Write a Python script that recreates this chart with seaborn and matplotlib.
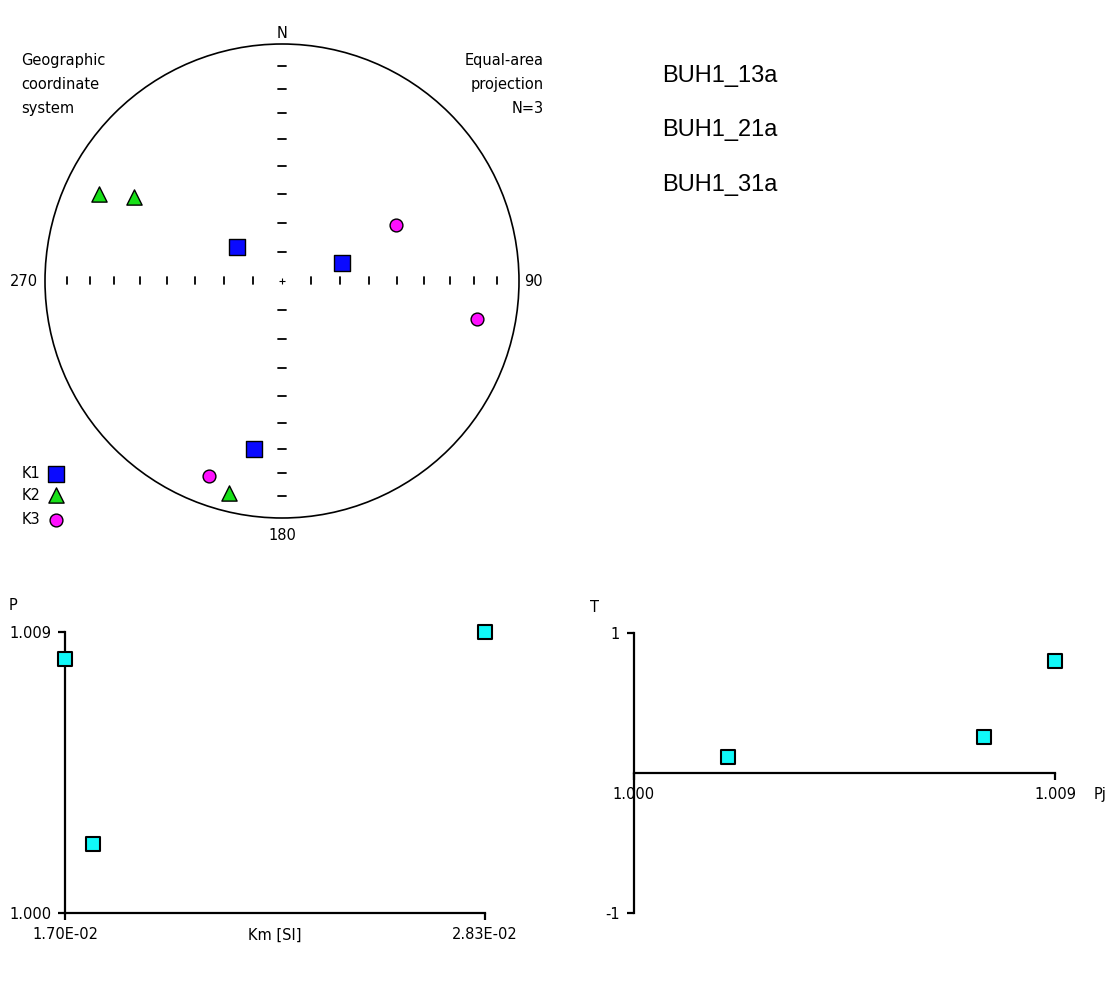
import numpy as np
import pandas as pd
import matplotlib
matplotlib.use("Agg")
import matplotlib.pyplot as plt
from matplotlib.patches import Circle
import seaborn as sns

# principal susceptibility directions (degrees), lower hemisphere
k_axes = ["K1", "K1", "K1", "K2", "K2", "K2", "K3", "K3", "K3"]
declination = [307.0, 73.0, 189.5, 295.5, 299.5, 194.0, 64.0, 101.0, 200.5]
inclination = [70.5, 68.5, 29.0, 15.5, 29.0, 8.5, 45.5, 17.5, 13.0]

samples = ["BUH1_13a", "BUH1_21a", "BUH1_31a"]

# P - Km plot
km_si = [0.01700, 0.01775, 0.02830]
p_degree = [1.00814, 1.00220, 1.00900]
km_ticks = [0.0170, 0.0283]
km_labels = ["1.70E-02", "2.83E-02"]
p_ticks = [1.000, 1.009]
p_labels = ["1.000", "1.009"]

# T - Pj plot
pj_degree = [1.00201, 1.00749, 1.00900]
t_shape = [0.114, 0.257, 0.798]
pj_ticks = [1.000, 1.009]
pj_labels = ["1.000", "1.009"]
t_ticks = [-1, 1]
t_labels = ["-1", "1"]

sns.set_style("white")
plt.rcParams["font.family"] = ["DejaVu Sans"]
plt.rcParams["axes.edgecolor"] = "black"
plt.rcParams["axes.labelcolor"] = "black"
plt.rcParams["xtick.color"] = "black"
plt.rcParams["ytick.color"] = "black"
plt.rcParams["text.color"] = "black"


def equal_area(dec, inc):
    r = np.sqrt(2) * np.sin(np.radians(90 - np.asarray(inc)) / 2)
    d = np.radians(np.asarray(dec))
    return r * np.sin(d), r * np.cos(d)


W, H = 1120, 996
fig = plt.figure(figsize=(W / 100, H / 100), dpi=100)

# ---- stereonet ----
cx, cy, R = 282, 281, 237
half = 1.18 * R
net = fig.add_axes([(cx - half) / W, 1 - (cy + half) / H, 2 * half / W, 2 * half / H])
net.set_xlim(-1.18, 1.18)
net.set_ylim(-1.18, 1.18)
net.set_axis_off()
net.add_patch(Circle((0, 0), 1, fill=False, lw=1.2, color="black"))

tick_r = np.sqrt(2) * np.sin(np.radians(90 - np.arange(10, 90, 10)) / 2)
for r in tick_r:
    for s in (-1, 1):
        net.plot([s * r, s * r], [-0.014, 0.016], color="black", lw=1.3)
        net.plot([-0.015, 0.015], [s * r, s * r], color="black", lw=1.3)
net.plot([0], [0], marker="+", color="black", markersize=4, mew=0.8)

x, y = equal_area(declination, inclination)
pts = pd.DataFrame({"x": x, "y": y, "axis": k_axes})
styles = {"K1": ("s", "#0a0aff", 130), "K2": ("^", "#18e018", 120), "K3": ("o", "#ff10ff", 85)}
for k, (m, c, s) in styles.items():
    sns.scatterplot(data=pts[pts["axis"] == k], x="x", y="y", marker=m, color=c, s=s,
                    edgecolor="black", linewidth=1.0, ax=net, legend=False, zorder=3)

fs = 10.5
net.text(0, 1.046, "N", ha="center", va="center", fontsize=fs)
net.text(-1.089, 0, "270", ha="center", va="center", fontsize=fs)
net.text(1.063, 0, "90", ha="center", va="center", fontsize=fs)
net.text(0, -1.072, "180", ha="center", va="center", fontsize=fs)
net.text(-1.101, 0.962, "Geographic\ncoordinate\nsystem", ha="left", va="top",
         fontsize=fs, linespacing=1.75)
net.text(1.105, 0.962, "Equal-area\nprojection\nN=3", ha="right", va="top",
         fontsize=fs, linespacing=1.75, multialignment="right")
for k, ly in zip(["K1", "K2", "K3"], [-0.814, -0.903, -1.008]):
    m, c, s = styles[k]
    net.text(-1.097, ly, k, ha="left", va="center", fontsize=fs)
    net.scatter([-0.954], [ly], marker=m, color=c, s=s, edgecolor="black",
                linewidth=1.0, clip_on=False, zorder=3)

# ---- sample names ----
for name, py in zip(samples, [76, 130, 185]):
    fig.text(662 / W, 1 - py / H, name, ha="left", va="center", fontsize=17,
             family="Liberation Sans")

# ---- P vs Km ----
ax1 = fig.add_axes([65 / W, 1 - 913 / H, 420 / W, 281 / H])
sns.scatterplot(x=km_si, y=p_degree, marker="s", color="#10f8f8", s=110,
                edgecolor="black", linewidth=1.5, ax=ax1, legend=False, zorder=3)
ax1.collections[-1].set_clip_on(False)
ax1.set_xlim(km_ticks[0], km_ticks[1])
ax1.set_ylim(p_ticks[0], p_ticks[1])
ax1.set_xticks(km_ticks)
ax1.set_xticklabels(km_labels, fontsize=fs)
ax1.set_yticks(p_ticks)
ax1.set_yticklabels(p_labels, fontsize=fs)
ax1.set_xlabel("")
ax1.set_ylabel("")
ax1.text(0.5, -22 / 281, "Km [SI]", transform=ax1.transAxes, ha="center",
         va="center", fontsize=fs)
ax1.text(-52 / 420, (913 - 605) / 281, "P", transform=ax1.transAxes, ha="center",
         va="center", fontsize=fs)
for sp in ["top", "right"]:
    ax1.spines[sp].set_visible(False)
for sp in ["left", "bottom"]:
    ax1.spines[sp].set_linewidth(1.6)
ax1.tick_params(axis="both", direction="out", length=5, width=1.6, pad=5,
                left=True, bottom=True)

# ---- T vs Pj ----
ax2 = fig.add_axes([634 / W, 1 - 913 / H, 421 / W, 280 / H])
sns.scatterplot(x=pj_degree, y=t_shape, marker="s", color="#10f8f8", s=110,
                edgecolor="black", linewidth=1.5, ax=ax2, legend=False, zorder=3)
ax2.collections[-1].set_clip_on(False)
ax2.set_xlim(pj_ticks[0], pj_ticks[1])
ax2.set_ylim(t_ticks[0], t_ticks[1])
ax2.spines["bottom"].set_position(("data", 0))
for sp in ["top", "right"]:
    ax2.spines[sp].set_visible(False)
for sp in ["left", "bottom"]:
    ax2.spines[sp].set_linewidth(1.6)
ax2.set_xticks(pj_ticks)
ax2.set_xticklabels(pj_labels, fontsize=fs)
ax2.set_yticks(t_ticks)
ax2.set_yticklabels(t_labels, fontsize=fs)
ax2.set_xlabel("")
ax2.set_ylabel("")
ax2.text(-40 / 421, (913 - 607) / 280, "T", transform=ax2.transAxes, ha="center",
         va="center", fontsize=fs)
ax2.text(1.107, 0.5 - 21 / 280, "Pj", transform=ax2.transAxes, ha="center",
         va="center", fontsize=fs)
ax2.tick_params(axis="both", direction="out", length=5, width=1.6, pad=5,
                left=True, bottom=True)

fig.savefig("out.png", dpi=100)
